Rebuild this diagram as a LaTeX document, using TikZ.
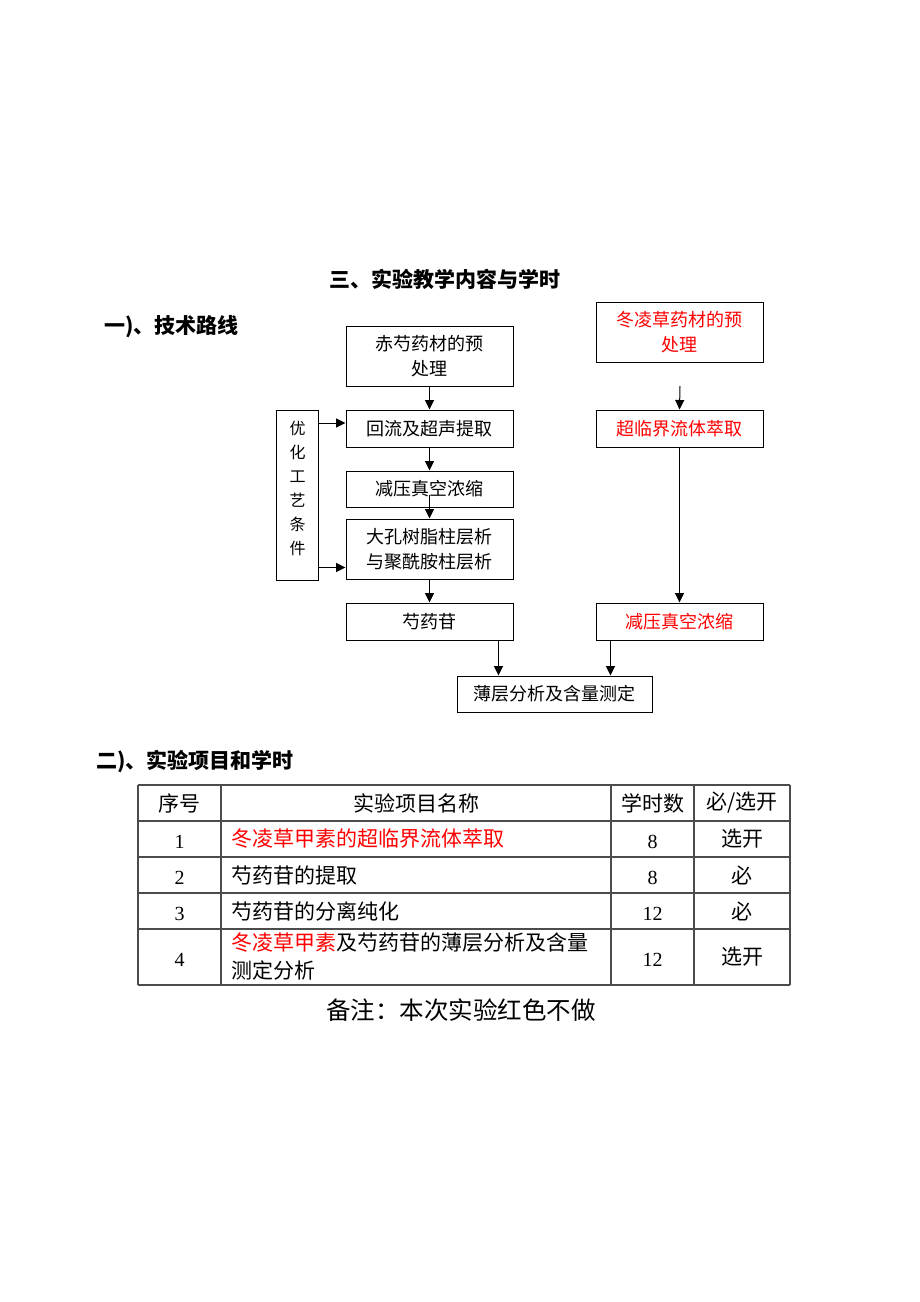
\documentclass[tikz,border=0pt]{standalone}
\usepackage{fontspec}
\setmainfont{Liberation Serif}
\newfontfamily\cjk{Noto Sans CJK SC}
\usetikzlibrary{arrows.meta,calc}
\tikzset{
	box/.style={draw,line width=1pt,minimum width=167pt,inner sep=0pt,align=center,font=\cjk\fontsize{18}{25}\selectfont},
	arr/.style={line width=1pt,-{Triangle[length=9.5pt,width=9pt]}},
	hd/.style={font=\cjk\bfseries\fontsize{21}{24}\selectfont,inner sep=0pt},
	cell/.style={font=\cjk\fontsize{21}{28}\selectfont,inner sep=0pt,align=left},
	num/.style={font=\fontsize{20}{24}\selectfont,inner sep=0pt},
	tbl/.style={line width=1.2pt,black!70}
}
\begin{document}
\begin{tikzpicture}[x=1pt,y=-1pt]
			\useasboundingbox[fill=white] (0,0) rectangle (920,1302);
			\node[hd] (title) at (445,279) {三、实验教学内容与学时};
			\node[hd,anchor=west] (sec1) at (104,327) {一)、技术路线};
			\node[box,minimum height=60pt] (b1) at (429.5,356) {赤芍药材的预\\处理};
			\node[box,minimum height=37pt] (b2) at (429.5,428.5) {回流及超声提取};
			\node[box,minimum height=36pt] (b3) at (429.5,489) {减压真空浓缩};
			\node[box,minimum height=60pt] (b4) at (429.5,549) {大孔树脂柱层析\\与聚酰胺柱层析};
			\node[box,minimum height=37pt] (b5) at (429.5,621.5) {芍药苷};
			\node[box,minimum height=60pt,text=red] (r1) at (679.5,332) {冬凌草药材的预\\处理};
			\node[box,minimum height=37pt,text=red] (r2) at (679.5,428.5) {超临界流体萃取};
			\node[box,minimum height=37pt,text=red] (r3) at (679.5,621.5) {减压真空浓缩};
			\node[box,minimum width=195pt,minimum height=36pt] (b6) at (554.5,694) {薄层分析及含量测定};
			\node[box,minimum width=42pt,minimum height=170pt] (lb) at (297.5,495) {};
			\node[align=center,inner sep=0pt,font=\cjk\fontsize{16}{24}\selectfont] (lbt) at (297.5,488) {优\\化\\工\\艺\\条\\件};
			\coordinate (c3) at ([yshift=-6pt]b3.center);
			\coordinate (r1a) at (680,386);
			\coordinate (p1) at ([xshift=42pt]b6.north west);
			\coordinate (p2) at ([xshift=-42pt]b6.north east);
			\draw[arr] (b1.south) -- (b2.north);
			\draw[arr] (b2.south) -- (b3.north);
			\draw[arr] (c3) -- (b4.north);
			\draw[arr] (b4.south) -- (b5.north);
			\draw[arr] (r1a) -- (r2.north);
			\draw[arr] (r2.south) -- (r3.north);
			\draw[arr] (b5.south -| p1) -- (p1);
			\draw[arr] (r3.south -| p2) -- (p2);
			\draw[arr] ([yshift=5.5pt]lb.east |- b2.west) -- ([yshift=5.5pt]b2.west);
			\draw[arr] ([yshift=-18.5pt]lb.east |- b4.west) -- ([yshift=-18.5pt]b4.west);
			\node[hd,anchor=west] (sec2) at (96,761) {二)、实验项目和学时};
			\foreach \y in {785,821,857,893,929,985}
			\draw[tbl] (138,\y) -- (790,\y);
			\foreach \x in {138,221,611,694,790}
			\draw[tbl] (\x,785) -- (\x,985);
			\node[cell] (h1) at (179.5,803) {序号};
			\node[cell] (h2) at (416,803) {实验项目名称};
			\node[cell] (h3) at (652.5,803) {学时数};
			\node[cell] (h4) at (742,803) {必/选开};
			\foreach \n/\y/\c/\t/\h/\m in {1/839/red/冬凌草甲素的超临界流体萃取/8/选开,2/875/black/芍药苷的提取/8/必,3/911/black/芍药苷的分离纯化/12/必}{
				\node[num] (no\n) at (179.5,\y+3) {\n};
				\node[cell,anchor=west,text=\c] (nm\n) at (231,\y) {\t};
				\node[num] (hr\n) at (652.5,\y+3) {\h};
				\node[cell] (ty\n) at (742,\y) {\m};
			}
			\node[num] (no4) at (179.5,960) {4};
			\node[cell,anchor=west] (nm4) at (231,956) {\textcolor{red}{冬凌草甲素}及芍药苷的薄层分析及含量\\测定分析};
			\node[num] (hr4) at (652.5,960) {12};
			\node[cell] (ty4) at (742,957) {选开};
			\node[cell,font=\cjk\fontsize{24.5}{28}\selectfont] (note) at (461,1010) {备注：本次实验红色不做};
		\end{tikzpicture}
\end{document}
